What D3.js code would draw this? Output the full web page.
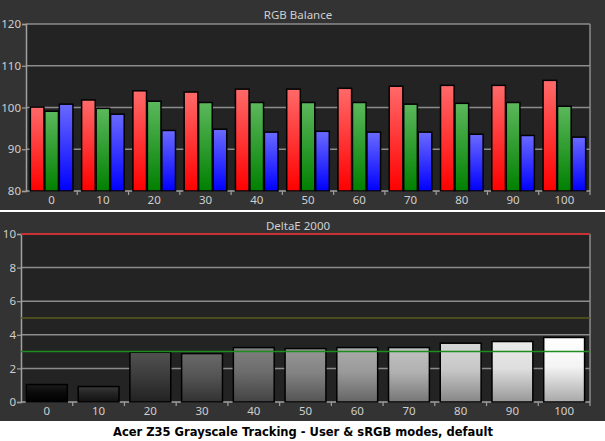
<!DOCTYPE html>
<html><head><meta charset="utf-8">
<script src="https://cdn.jsdelivr.net/npm/d3@7"></script>
<style>html,body{margin:0;padding:0;background:#fff;}svg{display:block;}</style>
</head><body>
<script>
const categories = [0, 10, 20, 30, 40, 50, 60, 70, 80, 90, 100];
const redValues   = [100.1, 101.8, 104.0, 103.7, 104.4, 104.4, 104.6, 105.1, 105.3, 105.3, 106.5];
const greenValues = [99.1, 99.8, 101.5, 101.2, 101.2, 101.2, 101.2, 100.8, 101.0, 101.2, 100.3];
const blueValues  = [100.8, 98.4, 94.5, 94.8, 94.1, 94.3, 94.1, 94.1, 93.6, 93.3, 92.9];
const deltaE = [1.04, 0.92, 2.96, 2.88, 3.24, 3.18, 3.24, 3.24, 3.50, 3.60, 3.84];
const rgbTicks = [80, 90, 100, 110, 120];
const deTicks = [0, 2, 4, 6, 8, 10];
const deLines = [{v: 10, c: "#c83232"}, {v: 5, c: "#5a5a1e"}, {v: 3, c: "#1e8c1e"}];
const topTitle = "RGB Balance", botTitle = "DeltaE 2000";
const caption = "Acer Z35 Grayscale Tracking - User & sRGB modes, default";

const W = 605, H = 441;
const svg = d3.select("body").append("svg").attr("width", W).attr("height", H);
const defs = svg.append("defs");
const font = "'Noto Sans', sans-serif";
const fs = "11.5px";
const txt = "#cfcfcf";

// panels
svg.append("rect").attr("x",0).attr("y",0).attr("width",W).attr("height",H).attr("fill","#fff");
svg.append("rect").attr("x",0).attr("y",0).attr("width",W).attr("height",210).attr("fill","#333333");
svg.append("rect").attr("x",0).attr("y",212).attr("width",W).attr("height",209).attr("fill","#333333");

function grad(id, top, bottom, mid) {
  const g = defs.append("linearGradient").attr("id", id).attr("x1",0).attr("y1",0).attr("x2",0).attr("y2",1);
  g.append("stop").attr("offset","0%").attr("stop-color", top);
  if (mid) g.append("stop").attr("offset","45%").attr("stop-color", mid);
  g.append("stop").attr("offset","100%").attr("stop-color", bottom);
}
grad("gR", "#ff6a6a", "#ff0000");
grad("gG", "#5cb85c", "#008000");
grad("gB", "#6a6aff", "#0000ff");

function drawAxes(g, x, y, ticks, left, right, top, bottom) {
  g.append("rect").attr("x", left).attr("y", top).attr("width", right-left).attr("height", bottom-top).attr("fill", "#232323");
  g.selectAll(".grid").data(ticks.filter(t => t !== ticks[0])).enter().append("line")
    .attr("x1", left).attr("x2", right).attr("y1", d => y(d)).attr("y2", d => y(d))
    .attr("stroke", "#8c8c8c").attr("stroke-width", 1.5);
  g.append("line").attr("x1", right).attr("x2", right).attr("y1", top).attr("y2", bottom).attr("stroke","#8c8c8c").attr("stroke-width",1.5);
  const ya = d3.axisLeft(y).tickValues(ticks).tickSize(4).tickPadding(1).tickFormat(d3.format("d"));
  const yg = g.append("g").attr("transform", `translate(${left},0)`).call(ya);
  yg.select(".domain").attr("stroke", "#a0a0a0").attr("stroke-width", 1.5);
  yg.selectAll(".tick line").attr("stroke", "#a0a0a0").attr("stroke-width", 1.2);
  yg.selectAll("text").attr("fill", txt).attr("font-family", font).attr("font-size", fs);
  const xa = d3.axisBottom(x).tickSize(0).tickPadding(5);
  const xg = g.append("g").attr("transform", `translate(0,${bottom})`).call(xa);
  xg.select(".domain").remove();
  xg.selectAll("text").attr("fill", txt).attr("font-family", font).attr("font-size", fs);
  g.append("line").attr("x1", left).attr("x2", right).attr("y1", bottom).attr("y2", bottom).attr("stroke","#a0a0a0").attr("stroke-width",1.5);
  const step = x.step();
  const bounds = d3.range(1, x.domain().length + 1).map(i => x.range()[0] + i * step);
  g.selectAll(".bt").data(bounds).enter().append("line")
    .attr("x1", d => d).attr("x2", d => d).attr("y1", bottom).attr("y2", bottom + 4)
    .attr("stroke", "#a0a0a0").attr("stroke-width", 1.2);
}

// ---- top chart
const tL = 26, tR = 590, tT = 24, tB = 191;
const xT = d3.scaleBand().domain(categories).range([tL, tR]).paddingInner(0).paddingOuter(0);
const yT = d3.scaleLinear().domain([80, 120]).range([tB, tT]);
const gT = svg.append("g");
drawAxes(gT, xT, yT, rgbTicks, tL, tR, tT, tB);
const xSub = d3.scaleBand().domain(["r","g","b"]).range([0, xT.bandwidth()]).paddingOuter(0.3).paddingInner(0.06);
const series = [{k:"r", v: redValues, f:"url(#gR)"}, {k:"g", v: greenValues, f:"url(#gG)"}, {k:"b", v: blueValues, f:"url(#gB)"}];
series.forEach(s => {
  gT.selectAll(".bar-" + s.k).data(categories).enter().append("rect")
    .attr("x", (d) => xT(d) + xSub(s.k))
    .attr("width", xSub.bandwidth())
    .attr("y", (d, i) => yT(s.v[i]))
    .attr("height", (d, i) => tB - yT(s.v[i]))
    .attr("fill", s.f).attr("stroke", "#000").attr("stroke-width", 1.5);
});
gT.append("text").attr("x", 298).attr("y", 19).attr("text-anchor","middle").attr("fill", txt)
  .attr("font-family", font).attr("font-size", fs).text(topTitle);

// ---- bottom chart
const bL = 21, bR = 590, bT = 234, bB = 402;
const xB = d3.scaleBand().domain(categories).range([bL, bR]).paddingInner(0.21).paddingOuter(0.105);
const yB = d3.scaleLinear().domain([0, 10]).range([bB, bT]);
const gB = svg.append("g");
drawAxes(gB, xB, yB, deTicks, bL, bR, bT, bB);
categories.forEach((c, i) => {
  const L = c / 100;
  const top = d3.interpolateRgb("#1c1c1c", "#ffffff")(Math.pow(L, 0.9));
  const mid = d3.interpolateRgb("#0a0a0a", "#f4f4f4")(Math.pow(L, 0.95));
  const bot = d3.interpolateRgb("#000000", "#a8a8a8")(L);
  grad("gd" + i, top, bot, mid);
});
gB.selectAll(".de").data(categories).enter().append("rect")
  .attr("x", d => xB(d)).attr("width", xB.bandwidth())
  .attr("y", (d, i) => yB(deltaE[i])).attr("height", (d, i) => bB - yB(deltaE[i]))
  .attr("fill", (d, i) => `url(#gd${i})`).attr("stroke", "#000").attr("stroke-width", 1.5);
gB.selectAll(".ref").data(deLines).enter().append("line")
  .attr("x1", bL).attr("x2", bR).attr("y1", d => yB(d.v)).attr("y2", d => yB(d.v))
  .attr("stroke", d => d.c).attr("stroke-width", d => d.v === 10 ? 2 : 1.5);
gB.append("text").attr("x", 298).attr("y", 230).attr("text-anchor","middle").attr("fill", txt)
  .attr("font-family", font).attr("font-size", fs).text(botTitle);

// caption
svg.append("text").attr("x", 303).attr("y", 436).attr("text-anchor","middle").attr("fill","#000")
  .attr("font-family", "'DejaVu Sans', sans-serif").attr("font-weight","bold").attr("font-size","12px")
  .attr("textLength", 380).attr("lengthAdjust","spacingAndGlyphs").text(caption);
</script>
</body></html>
